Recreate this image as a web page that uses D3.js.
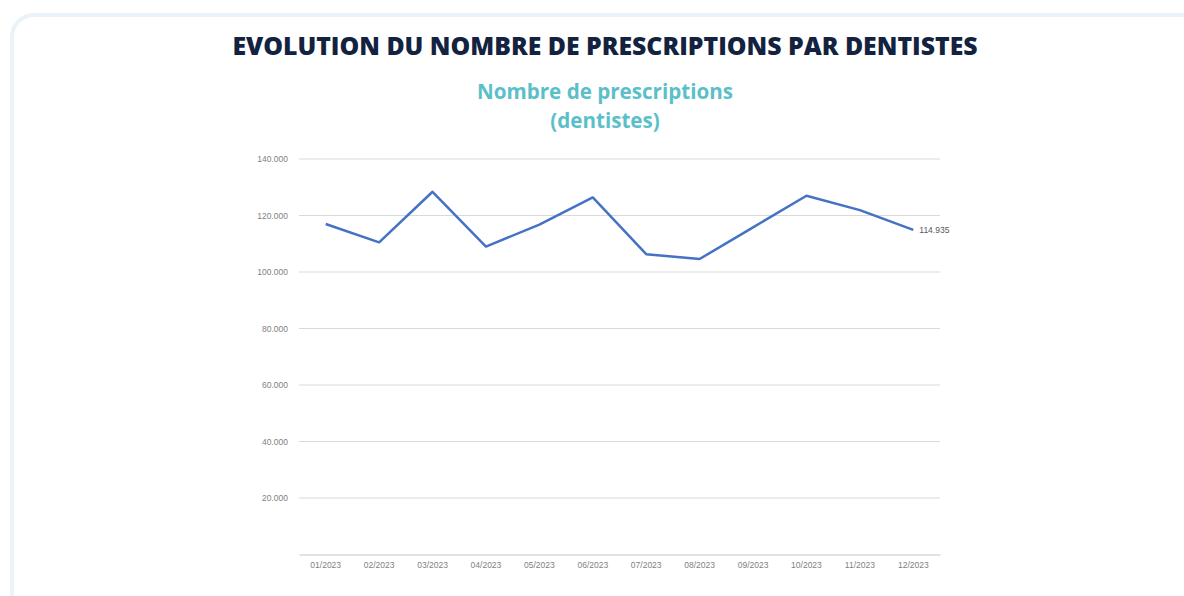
<!DOCTYPE html>
<html lang="fr">
<head>
  <meta charset="UTF-8">
  <title>Evolution du nombre de prescriptions par dentistes</title>
  <script src="https://d3js.org/d3.v7.min.js"></script>
  <style>
    body { margin: 0; background: #fff; font-family: "Open Sans", sans-serif; }
    .grid line { stroke: #d9d9d9; stroke-width: 1px; }
    .tick text { fill: #7f7f7f; font-family: "Liberation Sans", sans-serif; font-size: 8.5px; }
  </style>
</head>
<body>
<script>
  // months on the x axis
  var months = ["01/2023", "02/2023", "03/2023", "04/2023", "05/2023", "06/2023",
    "07/2023", "08/2023", "09/2023", "10/2023", "11/2023", "12/2023"];
  // prescriptions per month (last value is labelled on the chart)
  var prescriptions = [117000, 110500, 128400, 109000, 116800, 126400,
    106300, 104600, 115800, 127000, 121900, 114935];
  var yTicks = [20000, 40000, 60000, 80000, 100000, 120000, 140000];

  var W = 1184, H = 596;
  var svg = d3.select("body").append("svg")
    .attr("width", W).attr("height", H);

  // card background
  svg.append("rect")
    .attr("x", 12).attr("y", 15)
    .attr("width", W + 20).attr("height", H + 20)
    .attr("rx", 22)
    .attr("fill", "#fff")
    .attr("stroke", "#eaf4f8").attr("stroke-width", 4);

  svg.append("text")
    .attr("x", 605).attr("y", 55)
    .attr("text-anchor", "middle")
    .attr("fill", "#13233f")
    .style("font-size", "24.8px").style("font-weight", 800)
    .text("EVOLUTION DU NOMBRE DE PRESCRIPTIONS PAR DENTISTES");

  var sub = svg.append("text")
    .attr("text-anchor", "middle")
    .attr("fill", "#5bbfc9")
    .style("font-size", "20.6px").style("font-weight", 700);
  sub.append("tspan").attr("x", 605).attr("y", 99).text("Nombre de prescriptions");
  sub.append("tspan").attr("x", 605).attr("y", 128).text("(dentistes)");

  var plotLeft = 299, plotRight = 940, plotTop = 159, plotBottom = 554.5;

  var x = d3.scaleBand().domain(months).range([plotLeft, plotRight]);
  var y = d3.scaleLinear().domain([0, 140000]).range([plotBottom, plotTop]);
  var fmt = function (v) { return d3.format(",")(v).replace(/,/g, "."); };

  // horizontal gridlines
  svg.append("g").attr("class", "grid")
    .selectAll("line").data(yTicks).join("line")
    .attr("x1", plotLeft).attr("x2", plotRight)
    .attr("y1", function (d) { return y(d); })
    .attr("y2", function (d) { return y(d); });

  var yAxis = svg.append("g")
    .attr("transform", "translate(" + (plotLeft - 8) + ",0)")
    .call(d3.axisLeft(y).tickValues(yTicks).tickSize(0).tickFormat(fmt));
  yAxis.select(".domain").remove();

  var xAxis = svg.append("g")
    .attr("transform", "translate(0," + plotBottom + ")")
    .call(d3.axisBottom(x).tickSize(0).tickPadding(7));
  xAxis.select(".domain").attr("stroke", "#d9d9d9").attr("stroke-width", 1.5);

  var line = d3.line()
    .x(function (d, i) { return x(months[i]) + x.bandwidth() / 2; })
    .y(function (d) { return y(d); });

  svg.append("path")
    .datum(prescriptions)
    .attr("fill", "none")
    .attr("stroke", "#4472c4")
    .attr("stroke-width", 2.5)
    .attr("stroke-linejoin", "round")
    .attr("d", line);

  // label on last point
  var last = prescriptions.length - 1;
  svg.append("text")
    .attr("x", x(months[last]) + x.bandwidth() / 2 + 6)
    .attr("y", y(prescriptions[last]) + 3)
    .attr("fill", "#595959")
    .style("font-family", "'Liberation Sans', sans-serif")
    .style("font-size", "8.5px")
    .text(fmt(prescriptions[last]));
</script>
</body>
</html>
